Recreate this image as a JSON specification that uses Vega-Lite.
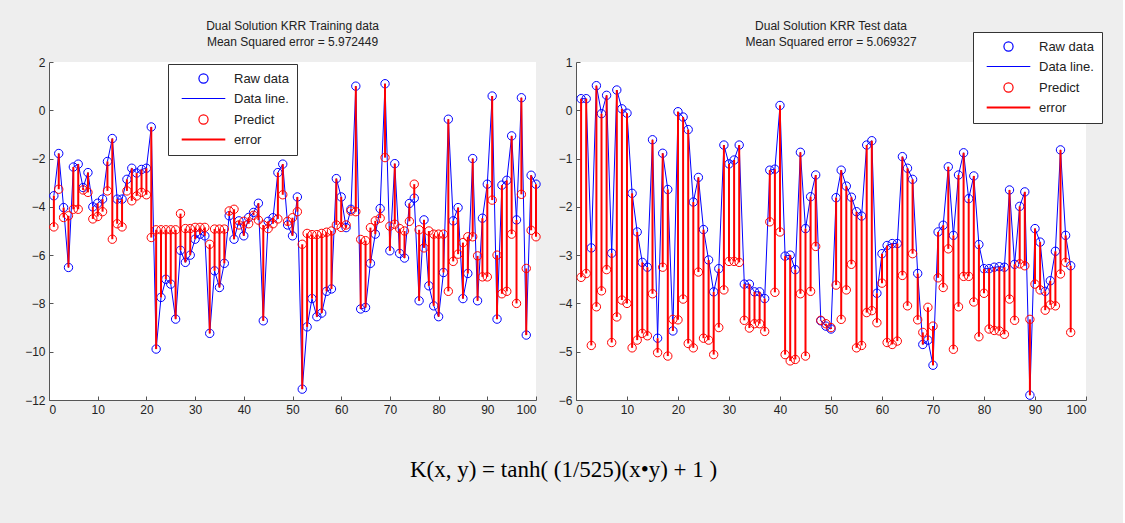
{
  "$schema": "https://vega.github.io/schema/vega-lite/v6.json",
  "background": "#eeeeee",
  "padding": {"left": 24, "top": 19, "right": 20, "bottom": 46},
  "bounds": "flush",
  "config": {
    "view": {"stroke": null, "fill": "white"},
    "axis": {"domainColor": "#555555", "tickColor": "#555555", "labelColor": "#222222", "labelFont": "Liberation Sans", "labelFontSize": 12, "grid": false, "title": null, "tickSize": -4, "tickWidth": 1, "labelPadding": 8},
    "title": {"font": "Liberation Sans", "fontSize": 12, "fontWeight": "normal", "color": "#222222", "lineHeight": 16, "offset": 7},
    "legend": {"labelFont": "Liberation Sans", "labelFontSize": 13, "labelColor": "#222222"}
  },
  "title": {"text": "K(x, y) = tanh( (1/525)(x•y) + 1 )", "orient": "bottom", "anchor": "middle", "font": "Liberation Serif", "fontSize": 23, "fontWeight": "normal", "color": "#000000", "offset": 44},
  "datasets": {
    "train": [
      {"x":1,"raw":-3.54,"pred":-4.83},{"x":2,"raw":-1.79,"pred":-3.27},{"x":3,"raw":-4.03,"pred":-4.44},{"x":4,"raw":-6.51,"pred":-4.37},{"x":5,"raw":-2.35,"pred":-4.1},
      {"x":6,"raw":-2.23,"pred":-4.1},{"x":7,"raw":-3.2,"pred":-3.3},{"x":8,"raw":-2.58,"pred":-3.4},{"x":9,"raw":-4.0,"pred":-4.5},{"x":10,"raw":-3.85,"pred":-4.4},
      {"x":11,"raw":-3.68,"pred":-4.2},{"x":12,"raw":-2.12,"pred":-3.34},{"x":13,"raw":-1.17,"pred":-5.34},{"x":14,"raw":-3.68,"pred":-4.7},{"x":15,"raw":-3.68,"pred":-4.83},
      {"x":16,"raw":-2.86,"pred":-3.34},{"x":17,"raw":-2.4,"pred":-3.75},{"x":18,"raw":-2.6,"pred":-3.55},{"x":19,"raw":-2.45,"pred":-3.4},{"x":20,"raw":-2.4,"pred":-3.5},
      {"x":21,"raw":-0.69,"pred":-5.27},{"x":22,"raw":-9.89,"pred":-4.95},{"x":23,"raw":-7.75,"pred":-4.95},{"x":24,"raw":-7.0,"pred":-4.95},{"x":25,"raw":-7.2,"pred":-4.95},
      {"x":26,"raw":-8.65,"pred":-4.95},{"x":27,"raw":-5.8,"pred":-4.28},{"x":28,"raw":-6.3,"pred":-4.9},{"x":29,"raw":-6.0,"pred":-4.9},{"x":30,"raw":-5.34,"pred":-4.85},
      {"x":31,"raw":-5.13,"pred":-4.85},{"x":32,"raw":-5.2,"pred":-4.85},{"x":33,"raw":-9.24,"pred":-5.55},{"x":34,"raw":-6.65,"pred":-4.92},{"x":35,"raw":-7.34,"pred":-4.92},
      {"x":36,"raw":-6.34,"pred":-4.92},{"x":37,"raw":-4.37,"pred":-4.17},{"x":38,"raw":-5.34,"pred":-4.1},{"x":39,"raw":-4.58,"pred":-4.75},{"x":40,"raw":-5.2,"pred":-4.6},
      {"x":41,"raw":-4.44,"pred":-4.7},{"x":42,"raw":-4.23,"pred":-4.35},{"x":43,"raw":-3.85,"pred":-4.55},{"x":44,"raw":-8.72,"pred":-4.75},{"x":45,"raw":-4.6,"pred":-4.9},
      {"x":46,"raw":-4.45,"pred":-4.7},{"x":47,"raw":-2.58,"pred":-4.5},{"x":48,"raw":-2.23,"pred":-3.5},{"x":49,"raw":-4.75,"pred":-4.6},{"x":50,"raw":-5.2,"pred":-4.45},
      {"x":51,"raw":-3.59,"pred":-4.2},{"x":52,"raw":-11.55,"pred":-5.55},{"x":53,"raw":-8.97,"pred":-5.1},{"x":54,"raw":-7.8,"pred":-5.15},{"x":55,"raw":-8.55,"pred":-5.15},
      {"x":56,"raw":-8.4,"pred":-5.1},{"x":57,"raw":-7.5,"pred":-5.05},{"x":58,"raw":-7.4,"pred":-5.0},{"x":59,"raw":-2.83,"pred":-4.75},{"x":60,"raw":-3.59,"pred":-4.85},
      {"x":61,"raw":-4.86,"pred":-4.75},{"x":62,"raw":-4.1,"pred":-4.17},{"x":63,"raw":1.0,"pred":-4.2},{"x":64,"raw":-8.23,"pred":-5.35},{"x":65,"raw":-8.17,"pred":-5.4},
      {"x":66,"raw":-6.34,"pred":-4.86},{"x":67,"raw":-5.13,"pred":-4.58},{"x":68,"raw":-4.07,"pred":-4.47},{"x":69,"raw":1.1,"pred":-1.96},{"x":70,"raw":-5.82,"pred":-4.8},
      {"x":71,"raw":-2.21,"pred":-4.72},{"x":72,"raw":-5.93,"pred":-4.9},{"x":73,"raw":-6.12,"pred":-5.0},{"x":74,"raw":-3.86,"pred":-4.6},{"x":75,"raw":-3.64,"pred":-3.06},
      {"x":76,"raw":-7.89,"pred":-4.95},{"x":77,"raw":-4.54,"pred":-5.7},{"x":78,"raw":-7.27,"pred":-5.0},{"x":79,"raw":-8.1,"pred":-5.13},{"x":80,"raw":-8.55,"pred":-5.13},
      {"x":81,"raw":-6.72,"pred":-5.13},{"x":82,"raw":-0.37,"pred":-7.5},{"x":83,"raw":-4.58,"pred":-6.26},{"x":84,"raw":-4.03,"pred":-5.96},{"x":85,"raw":-7.8,"pred":-5.48},
      {"x":86,"raw":-6.76,"pred":-5.24},{"x":87,"raw":-2.0,"pred":-5.24},{"x":88,"raw":-7.89,"pred":-6.03},{"x":89,"raw":-4.47,"pred":-6.9},{"x":90,"raw":-3.06,"pred":-6.9},
      {"x":91,"raw":0.59,"pred":-3.72},{"x":92,"raw":-8.65,"pred":-6.0},{"x":93,"raw":-3.1,"pred":-7.6},{"x":94,"raw":-2.9,"pred":-7.5},{"x":95,"raw":-1.06,"pred":-5.13},
      {"x":96,"raw":-4.54,"pred":-8.0},{"x":97,"raw":0.52,"pred":-3.48},{"x":98,"raw":-9.31,"pred":-6.55},{"x":99,"raw":-2.69,"pred":-4.97},{"x":100,"raw":-3.06,"pred":-5.24}
    ],
    "test": [
      {"x":1,"raw":0.24,"pred":-3.46},{"x":2,"raw":0.24,"pred":-3.38},{"x":3,"raw":-2.85,"pred":-4.87},{"x":4,"raw":0.51,"pred":-4.07},{"x":5,"raw":-0.07,"pred":-3.74},
      {"x":6,"raw":0.31,"pred":-3.3},{"x":7,"raw":-2.96,"pred":-4.81},{"x":8,"raw":0.42,"pred":-4.28},{"x":9,"raw":0.03,"pred":-3.93},{"x":10,"raw":-0.06,"pred":-4.0},
      {"x":11,"raw":-1.72,"pred":-4.92},{"x":12,"raw":-2.52,"pred":-4.76},{"x":13,"raw":-3.15,"pred":-4.62},{"x":14,"raw":-3.25,"pred":-4.67},{"x":15,"raw":-0.61,"pred":-3.8},
      {"x":16,"raw":-4.72,"pred":-5.02},{"x":17,"raw":-0.89,"pred":-3.25},{"x":18,"raw":-1.64,"pred":-5.09},{"x":19,"raw":-4.57,"pred":-4.33},{"x":20,"raw":-0.03,"pred":-4.34},
      {"x":21,"raw":-0.14,"pred":-3.91},{"x":22,"raw":-0.4,"pred":-4.83},{"x":23,"raw":-1.9,"pred":-4.92},{"x":24,"raw":-1.39,"pred":-3.35},{"x":25,"raw":-2.47,"pred":-4.72},
      {"x":26,"raw":-3.1,"pred":-4.76},{"x":27,"raw":-3.76,"pred":-5.06},{"x":28,"raw":-3.28,"pred":-4.5},{"x":29,"raw":-0.72,"pred":-3.72},{"x":30,"raw":-1.11,"pred":-3.13},
      {"x":31,"raw":-1.03,"pred":-3.13},{"x":32,"raw":-0.72,"pred":-3.15},{"x":33,"raw":-3.6,"pred":-4.35},{"x":34,"raw":-3.6,"pred":-4.51},{"x":35,"raw":-3.76,"pred":-4.42},
      {"x":36,"raw":-3.76,"pred":-4.42},{"x":37,"raw":-3.9,"pred":-4.58},{"x":38,"raw":-1.24,"pred":-2.31},{"x":39,"raw":-1.22,"pred":-3.77},{"x":40,"raw":0.1,"pred":-2.52},
      {"x":41,"raw":-3.02,"pred":-5.06},{"x":42,"raw":-3.0,"pred":-5.19},{"x":43,"raw":-3.3,"pred":-5.16},{"x":44,"raw":-0.87,"pred":-3.8},{"x":45,"raw":-2.45,"pred":-5.09},
      {"x":46,"raw":-1.79,"pred":-3.75},{"x":47,"raw":-1.34,"pred":-2.82},{"x":48,"raw":-4.36,"pred":-4.35},{"x":49,"raw":-4.47,"pred":-4.42},{"x":50,"raw":-4.53,"pred":-4.5},
      {"x":51,"raw":-1.81,"pred":-3.62},{"x":52,"raw":-1.24,"pred":-4.33},{"x":53,"raw":-1.57,"pred":-3.72},{"x":54,"raw":-1.8,"pred":-3.19},{"x":55,"raw":-2.1,"pred":-4.92},
      {"x":56,"raw":-2.19,"pred":-4.87},{"x":57,"raw":-0.72,"pred":-4.19},{"x":58,"raw":-0.63,"pred":-4.15},{"x":59,"raw":-3.79,"pred":-4.4},{"x":60,"raw":-2.97,"pred":-3.58},
      {"x":61,"raw":-2.8,"pred":-4.81},{"x":62,"raw":-2.76,"pred":-4.85},{"x":63,"raw":-2.76,"pred":-4.78},{"x":64,"raw":-0.96,"pred":-3.42},{"x":65,"raw":-1.2,"pred":-4.05},
      {"x":66,"raw":-1.43,"pred":-2.97},{"x":67,"raw":-3.38,"pred":-4.34},{"x":68,"raw":-4.85,"pred":-4.6},{"x":69,"raw":-4.76,"pred":-4.08},{"x":70,"raw":-5.28,"pred":-4.47},
      {"x":71,"raw":-2.52,"pred":-3.47},{"x":72,"raw":-2.38,"pred":-3.67},{"x":73,"raw":-1.17,"pred":-2.87},{"x":74,"raw":-2.59,"pred":-4.95},{"x":75,"raw":-1.34,"pred":-4.07},
      {"x":76,"raw":-0.88,"pred":-3.44},{"x":77,"raw":-1.83,"pred":-3.44},{"x":78,"raw":-1.36,"pred":-3.97},{"x":79,"raw":-2.78,"pred":-4.69},{"x":80,"raw":-3.28,"pred":-3.79},
      {"x":81,"raw":-3.28,"pred":-4.53},{"x":82,"raw":-3.25,"pred":-4.56},{"x":83,"raw":-3.24,"pred":-4.57},{"x":84,"raw":-3.25,"pred":-4.64},{"x":85,"raw":-1.65,"pred":-3.91},
      {"x":86,"raw":-3.19,"pred":-4.35},{"x":87,"raw":-1.99,"pred":-3.18},{"x":88,"raw":-1.69,"pred":-3.22},{"x":89,"raw":-5.9,"pred":-4.33},{"x":90,"raw":-2.45,"pred":-3.6},
      {"x":91,"raw":-2.73,"pred":-3.72},{"x":92,"raw":-3.75,"pred":-4.14},{"x":93,"raw":-3.53,"pred":-4.03},{"x":94,"raw":-2.92,"pred":-4.05},{"x":95,"raw":-0.82,"pred":-3.39},
      {"x":96,"raw":-2.59,"pred":-3.15},{"x":97,"raw":-3.22,"pred":-4.6}
    ]
  },
  "hconcat": [
    {
      "width": 487,
      "height": 338,
      "title": {"text": ["Dual Solution KRR Training data", "Mean Squared error = 5.972449"]},
      "data": {"name": "train"},
      "encoding": {
        "x": {"field": "x", "type": "quantitative", "scale": {"domain": [0, 100], "nice": false}, "axis": {"values": [0,10,20,30,40,50,60,70,80,90,100]}}
      },
      "layer": [
        {
          "mark": {"type": "line", "strokeWidth": 1},
          "encoding": {
            "y": {"field": "raw", "type": "quantitative", "scale": {"domain": [-12, 2], "nice": false}, "axis": {"values": [-12,-10,-8,-6,-4,-2,0,2]}},
            "color": {
              "datum": "Data line.", "type": "nominal",
              "scale": {"domain": ["Raw data", "Data line.", "Predict", "error"], "range": ["#0000ff", "#0000ff", "#ff0000", "#ff0000"]},
              "legend": {
                "title": null, "orient": "none", "legendX": 119, "legendY": 2,
                "strokeColor": "#333333", "fillColor": "white", "padding": 8,
                "symbolSize": 1900, "rowPadding": 6, "symbolOffset": 21, "labelOffset": 24,
                "encode": {"symbols": {"update": {
                  "size": {"value": 1900},
                  "shape": {"signal": "datum.value === 'Data line.' || datum.value === 'error' ? 'stroke' : 'M0.21,0A0.21,0.21,0,1,1,-0.21,0A0.21,0.21,0,1,1,0.21,0Z'"},
                  "stroke": {"signal": "datum.value === 'Raw data' || datum.value === 'Data line.' ? '#3333ff' : '#ff0000'"},
                  "strokeWidth": {"signal": "datum.value === 'error' ? 2 : 1.2"},
                  "opacity": {"value": 1},
                  "fill": {"value": "transparent"}
                }}}
              }
            }
          }
        },
        {
          "mark": {"type": "point", "filled": false, "size": 70, "strokeWidth": 1, "opacity": 1},
          "encoding": {"y": {"field": "raw", "type": "quantitative"}, "color": {"datum": "Raw data", "type": "nominal"}}
        },
        {
          "mark": {"type": "point", "filled": false, "size": 70, "strokeWidth": 1, "opacity": 1},
          "encoding": {"y": {"field": "pred", "type": "quantitative"}, "color": {"datum": "Predict", "type": "nominal"}}
        },
        {
          "mark": {"type": "rule", "strokeWidth": 2},
          "encoding": {"y": {"field": "raw", "type": "quantitative"}, "y2": {"field": "pred"}, "color": {"datum": "error", "type": "nominal"}}
        }
      ]
    },
    {
      "width": 510,
      "height": 338,
      "title": {"text": ["Dual Solution KRR Test data", "Mean Squared error = 5.069327"], "offset": -17},
      "data": {"name": "test"},
      "encoding": {
        "x": {"field": "x", "type": "quantitative", "scale": {"domain": [0, 100], "nice": false}, "axis": {"values": [0,10,20,30,40,50,60,70,80,90,100]}}
      },
      "layer": [
        {
          "mark": {"type": "line", "strokeWidth": 1},
          "encoding": {
            "y": {"field": "raw", "type": "quantitative", "scale": {"domain": [-6, 1], "nice": false}, "axis": {"values": [-6,-5,-4,-3,-2,-1,0,1]}},
            "color": {
              "datum": "Data line.", "type": "nominal",
              "scale": {"domain": ["Raw data", "Data line.", "Predict", "error"], "range": ["#0000ff", "#0000ff", "#ff0000", "#ff0000"]},
              "legend": {
                "title": null, "orient": "none", "legendX": 397, "legendY": -30,
                "strokeColor": "#333333", "fillColor": "white", "padding": 8,
                "symbolSize": 1900, "rowPadding": 6, "symbolOffset": 21, "labelOffset": 24,
                "encode": {"symbols": {"update": {
                  "size": {"value": 1900},
                  "shape": {"signal": "datum.value === 'Data line.' || datum.value === 'error' ? 'stroke' : 'M0.21,0A0.21,0.21,0,1,1,-0.21,0A0.21,0.21,0,1,1,0.21,0Z'"},
                  "stroke": {"signal": "datum.value === 'Raw data' || datum.value === 'Data line.' ? '#3333ff' : '#ff0000'"},
                  "strokeWidth": {"signal": "datum.value === 'error' ? 2 : 1.2"},
                  "opacity": {"value": 1},
                  "fill": {"value": "transparent"}
                }}}
              }
            }
          }
        },
        {
          "mark": {"type": "point", "filled": false, "size": 70, "strokeWidth": 1, "opacity": 1},
          "encoding": {"y": {"field": "raw", "type": "quantitative"}, "color": {"datum": "Raw data", "type": "nominal"}}
        },
        {
          "mark": {"type": "point", "filled": false, "size": 70, "strokeWidth": 1, "opacity": 1},
          "encoding": {"y": {"field": "pred", "type": "quantitative"}, "color": {"datum": "Predict", "type": "nominal"}}
        },
        {
          "mark": {"type": "rule", "strokeWidth": 2},
          "encoding": {"y": {"field": "raw", "type": "quantitative"}, "y2": {"field": "pred"}, "color": {"datum": "error", "type": "nominal"}}
        }
      ]
    }
  ],
  "spacing": 40,
  "resolve": {"scale": {"color": "independent", "y": "independent"}}
}
